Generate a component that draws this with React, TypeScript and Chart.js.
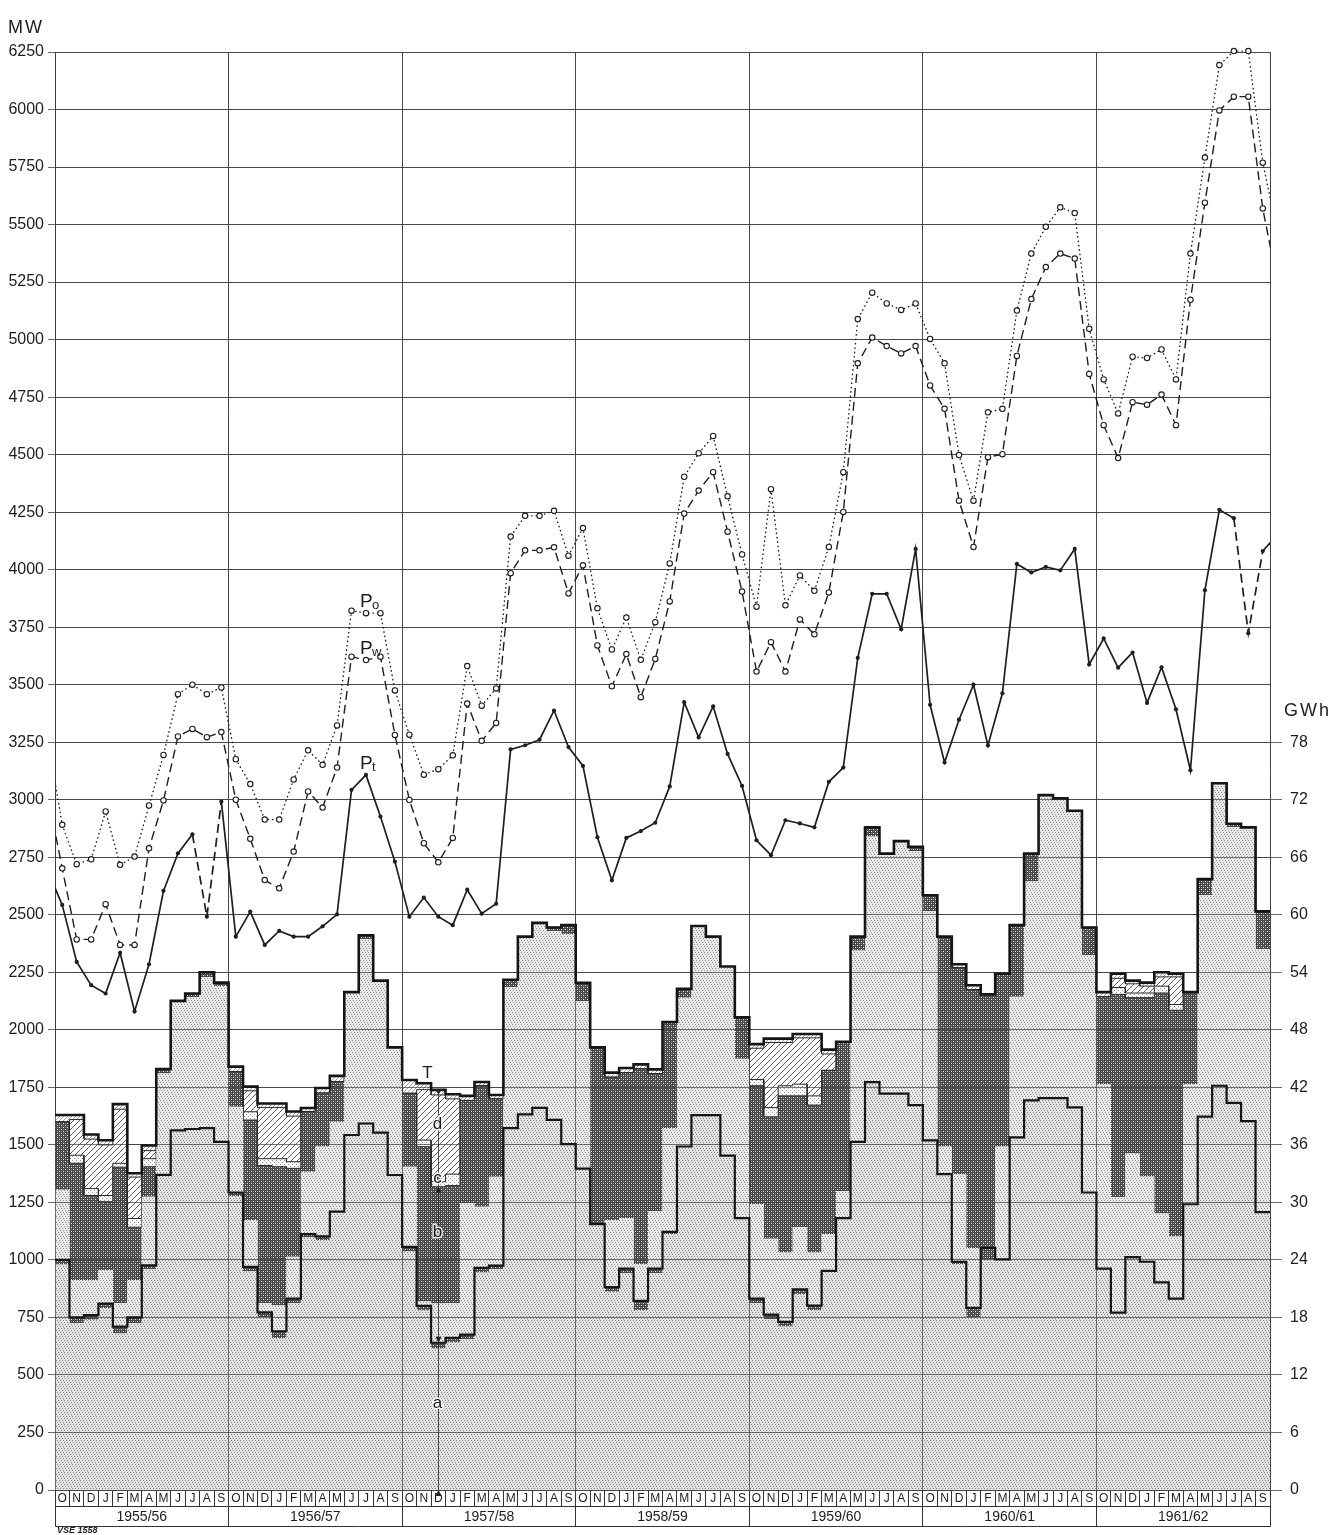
import React, { useEffect, useRef } from 'react';
import { Chart, registerables } from 'chart.js';

Chart.register(...registerables);

const MONTH_LETTERS = ['O', 'N', 'D', 'J', 'F', 'M', 'A', 'M', 'J', 'J', 'A', 'S'];
const YEAR_LABELS = ['1955/56', '1956/57', '1957/58', '1958/59', '1959/60', '1960/61', '1961/62'];

// Monthly peak loads in MW, October 1955 ... September 1962
const P_O = [
  2891, 2720, 2741, 2949, 2717, 2753, 2975, 3195, 3459, 3500, 3459, 3488,
  3176, 3068, 2914, 2914, 3088, 3215, 3152, 3323, 3822, 3811, 3811, 3475,
  3283, 3109, 3133, 3193, 3581, 3409, 3484, 4144, 4234, 4234, 4256, 4061,
  4181, 3832, 3653, 3792, 3608, 3772, 4027, 4404, 4506, 4581, 4319, 4066,
  3839, 4350, 3845, 3975, 3908, 4099, 4424, 5089, 5204, 5157, 5129, 5157,
  5003, 4897, 4498, 4300, 4684, 4699, 5126, 5374, 5490, 5575, 5550, 5047,
  4827, 4679, 4926, 4920, 4957, 4827, 5374, 5791, 6193, 6254, 6254, 5769,
];
const P_W = [
  2702, 2393, 2393, 2546, 2369, 2369, 2789, 2997, 3275, 3308, 3272, 3294,
  3000, 2830, 2651, 2615, 2775, 3036, 2966, 3140, 3622, 3607, 3622, 3282,
  2999, 2811, 2728, 2834, 3418, 3256, 3334, 3985, 4084, 4084, 4097, 3897,
  4019, 3671, 3493, 3633, 3446, 3612, 3862, 4244, 4344, 4424, 4165, 3905,
  3557, 3685, 3557, 3784, 3719, 3901, 4251, 4897, 5009, 4972, 4940, 4972,
  4801, 4699, 4300, 4099, 4489, 4502, 4929, 5176, 5315, 5374, 5352, 4851,
  4628, 4485, 4728, 4717, 4761, 4628, 5173, 5595, 5996, 6056, 6056, 5570,
];
const P_T = [
  2543, 2295, 2194, 2158, 2335, 2080, 2285, 2604, 2767, 2850, 2492, 2992,
  2405, 2514, 2369, 2430, 2405, 2405, 2450, 2502, 3043, 3108, 2927, 2731,
  2492, 2575, 2492, 2455, 2609, 2505, 2548, 3219, 3237, 3261, 3388, 3229,
  3147, 2837, 2650, 2834, 2864, 2900, 3058, 3424, 3271, 3406, 3199, 3060,
  2824, 2759, 2911, 2897, 2880, 3078, 3140, 3617, 3895, 3895, 3741, 4090,
  3413, 3162, 3348, 3500, 3236, 3463, 4025, 3988, 4012, 3997, 4090, 3588,
  3701, 3574, 3640, 3421, 3576, 3393, 3128, 3911, 4260, 4224, 3724, 4081,
];
// September 1955 and October 1962: only the segments up to the frame show
const P_O_OUTSIDE = [3267, 5470];
const P_W_OUTSIDE = [3020, 5250];
const P_T_OUTSIDE = [2690, 4150];
// months from which the P_t line continues dashed
const P_T_DASHED_FROM = [9, 10, 81, 82];

// Daily production, stacked by component, in units of the MW scale (6 GWh = 250 MW)
const LAYER_A = [
  980, 725, 740, 790, 680, 725, 961, 1370, 1563, 1569, 1573, 1513,
  1278, 950, 752, 660, 812, 1097, 1087, 1210, 1543, 1593, 1553, 1369,
  1037, 780, 615, 641, 655, 945, 960, 1573, 1633, 1661, 1609, 1503,
  1397, 1156, 862, 942, 782, 942, 1112, 1493, 1629, 1629, 1453, 1182,
  812, 742, 711, 852, 781, 952, 1182, 1513, 1773, 1723, 1723, 1673,
  1520, 1373, 982, 752, 1002, 1002, 1533, 1693, 1703, 1703, 1663, 1293,
  962, 771, 1012, 992, 902, 832, 1242, 1623, 1757, 1683, 1603, 1208,
];
const LAYER_A_DARK = [
  20, 25, 20, 20, 30, 25, 15, 0, 0, 0, 0, 0,
  15, 20, 20, 30, 20, 15, 15, 0, 0, 0, 0, 0,
  20, 20, 25, 20, 20, 20, 15, 0, 0, 0, 0, 0,
  0, 0, 20, 20, 40, 20, 10, 0, 0, 0, 0, 0,
  20, 20, 20, 20, 20, 0, 0, 0, 0, 0, 0, 0,
  0, 0, 10, 40, 50, 0, 0, 0, 0, 0, 0, 0,
  0, 0, 0, 0, 0, 0, 0, 0, 0, 0, 0, 0,
];
const LAYER_S = [
  305, 163, 153, 146, 102, 162, 299, 440, 563, 574, 657, 677,
  373, 203, 40, 112, 182, 271, 391, 390, 621, 802, 661, 555,
  348, 19, 171, 151, 572, 266, 387, 612, 772, 804, 821, 912,
  727, 0, 290, 220, 160, 250, 451, 647, 822, 776, 822, 692,
  410, 330, 301, 270, 231, 160, 118, 832, 1067, 1043, 1097, 1103,
  995, 120, 381, 260, 0, 491, 611, 952, 1317, 1303, 1289, 1032,
  801, 501, 451, 371, 300, 270, 521, 962, 1315, 1197, 1277, 1143,
];
const LAYER_B = [
  295, 507, 367, 297, 591, 230, 130, 20, 0, 15, 20, 15,
  152, 435, 598, 603, 384, 262, 232, 175, 0, 16, 0, 0,
  319, 673, 507, 511, 446, 526, 338, 33, 0, 0, 15, 40,
  80, 768, 622, 632, 848, 598, 461, 38, 0, 0, 0, 180,
  515, 530, 681, 571, 641, 712, 648, 60, 40, 0, 0, 20,
  70, 912, 897, 1122, 1102, 751, 311, 121, 0, 0, 0, 120,
  381, 882, 677, 777, 958, 983, 401, 70, 0, 16, 0, 164,
];
const LAYER_C = [
  0, 35, 30, 27, 17, 38, 35, 0, 0, 0, 0, 0,
  0, 36, 30, 35, 29, 0, 0, 0, 0, 0, 0, 0,
  0, 29, 22, 50, 0, 0, 0, 0, 0, 0, 0, 0,
  0, 0, 0, 0, 0, 0, 0, 0, 0, 0, 0, 0,
  27, 40, 44, 51, 40, 0, 0, 0, 0, 0, 0, 0,
  0, 0, 0, 0, 0, 0, 0, 0, 0, 0, 0, 0,
  0, 30, 20, 20, 30, 25, 0, 0, 0, 0, 0, 0,
];
const LAYER_D = [
  0, 155, 215, 220, 235, 180, 35, 0, 0, 0, 0, 0,
  0, 91, 222, 222, 198, 0, 0, 0, 0, 0, 0, 0,
  0, 219, 377, 327, 0, 0, 0, 0, 0, 0, 0, 0,
  0, 0, 0, 0, 0, 0, 0, 0, 0, 0, 0, 0,
  136, 283, 188, 201, 252, 71, 0, 0, 0, 0, 0, 0,
  0, 0, 0, 0, 0, 0, 0, 0, 0, 0, 0, 0,
  0, 40, 40, 30, 40, 120, 0, 0, 0, 0, 0, 0,
];
const LAYER_T = [
  30, 20, 20, 20, 22, 17, 22, 0, 0, 0, 0, 0,
  22, 18, 18, 18, 20, 15, 22, 25, 0, 0, 0, 0,
  58, 28, 22, 20, 20, 16, 17, 0, 0, 0, 0, 0,
  0, 0, 20, 20, 20, 18, 0, 0, 0, 0, 0, 0,
  18, 17, 17, 17, 17, 19, 0, 0, 0, 0, 0, 0,
  0, 0, 15, 20, 0, 0, 0, 0, 0, 0, 0, 0,
  20, 20, 14, 15, 20, 14, 0, 0, 0, 0, 0, 0,
];

const FONT = '"Liberation Sans", "DejaVu Sans", sans-serif';
const INK = '#1e1e1e';

function tile(size: number, paint: (g: CanvasRenderingContext2D) => void): CanvasPattern {
  const c = document.createElement('canvas');
  c.width = size;
  c.height = size;
  const g = c.getContext('2d') as CanvasRenderingContext2D;
  paint(g);
  return g.createPattern(c, 'repeat') as CanvasPattern;
}

function makePatterns() {
  // fine halftone dots for the light components
  const dots = (bg: string, dot: string) =>
    tile(6, (g) => {
      g.fillStyle = bg;
      g.fillRect(0, 0, 6, 6);
      g.fillStyle = dot;
      [[0, 0], [3, 0], [1, 2], [4, 2], [2, 4], [5, 4]].forEach(([x, y]) => g.fillRect(x, y, 1, 1));
    });
  const stipple = dots('#e2e2e2', '#858585');
  const stippleLight = dots('#e9e9e9', '#939393');
  // dark cross screen with staggered light holes
  const dark = tile(4, (g) => {
    g.fillStyle = '#474747';
    g.fillRect(0, 0, 4, 4);
    g.fillStyle = '#e6e6e6';
    g.fillRect(1, 1, 1, 1);
    g.fillRect(3, 3, 1, 1);
    g.fillStyle = '#8a8a8a';
    g.fillRect(3, 1, 1, 1);
    g.fillRect(1, 3, 1, 1);
  });
  const hatch = tile(6, (g) => {
    g.fillStyle = '#ffffff';
    g.fillRect(0, 0, 6, 6);
    g.strokeStyle = '#4d4d4d';
    g.lineWidth = 0.9;
    g.beginPath();
    g.moveTo(0, 6); g.lineTo(6, 0);
    g.moveTo(-1, 1); g.lineTo(1, -1);
    g.moveTo(5, 7); g.lineTo(7, 5);
    g.stroke();
  });
  const fineHatch = tile(4, (g) => {
    g.fillStyle = '#ffffff';
    g.fillRect(0, 0, 4, 4);
    g.strokeStyle = '#8a8a8a';
    g.lineWidth = 0.8;
    g.beginPath();
    g.moveTo(0, 4); g.lineTo(4, 0);
    g.moveTo(-1, 1); g.lineTo(1, -1);
    g.moveTo(3, 5); g.lineTo(5, 3);
    g.stroke();
  });
  const pale = tile(4, (g) => {
    g.fillStyle = '#f8f8f8';
    g.fillRect(0, 0, 4, 4);
    g.fillStyle = '#9a9a9a';
    g.fillRect(0, 0, 1, 1);
    g.fillRect(2, 2, 1, 1);
  });
  return { stipple, stippleLight, dark, hatch, fineHatch, pale };
}

const align = (p: number) => Math.round(p - 0.5) + 0.5;

const decorPlugin = {
  id: 'decor',
  afterDatasetDraw(chart: any, args: any) {
    // grid shows through the textured areas
    if (args.index !== 0) return;
    const { ctx, chartArea: ca, scales } = chart;
    ctx.save();
    ctx.beginPath();
    ctx.rect(ca.left, ca.top, ca.right - ca.left, ca.bottom - ca.top);
    ctx.clip();
    ctx.strokeStyle = 'rgba(60,60,60,0.7)';
    ctx.lineWidth = 1;
    ctx.beginPath();
    scales.y.ticks.forEach((t: any) => {
      const y = align(scales.y.getPixelForValue(t.value));
      ctx.moveTo(ca.left, y);
      ctx.lineTo(ca.right, y);
    });
    scales.x.ticks.forEach((t: any) => {
      const x = align(scales.x.getPixelForValue(t.value));
      ctx.moveTo(x, ca.top);
      ctx.lineTo(x, ca.bottom);
    });
    ctx.stroke();
    ctx.restore();
  },
  afterDraw(chart: any) {
    const { ctx, chartArea: ca, scales } = chart;
    const xs = scales.x;
    const ys = scales.y;
    const n = P_T.length;
    ctx.save();

    // month and year rows under the plot
    const rowTop = align(ca.bottom);
    const rowMid = rowTop + 16;
    const rowBot = rowTop + 36;
    ctx.strokeStyle = '#333';
    ctx.lineWidth = 1;
    ctx.beginPath();
    for (let i = 0; i <= n; i++) {
      const x = align(xs.getPixelForValue(i));
      const yearEdge = i % 12 === 0;
      ctx.moveTo(x, rowTop);
      ctx.lineTo(x, yearEdge ? rowBot : rowMid);
    }
    const xl = align(xs.getPixelForValue(0));
    const xr = align(xs.getPixelForValue(n));
    ctx.moveTo(xl, rowMid); ctx.lineTo(xr, rowMid);
    ctx.moveTo(xl, rowBot); ctx.lineTo(xr, rowBot);
    ctx.stroke();

    ctx.fillStyle = INK;
    ctx.textAlign = 'center';
    ctx.textBaseline = 'middle';
    ctx.font = `12px ${FONT}`;
    for (let i = 0; i < n; i++) {
      const xc = xs.getPixelForValue(i + 0.5);
      ctx.fillText(MONTH_LETTERS[i % 12], xc, rowTop + 8.5);
    }
    ctx.font = `14px ${FONT}`;
    YEAR_LABELS.forEach((lab, k) => {
      const xc = xs.getPixelForValue(k * 12 + 6);
      ctx.fillText(lab, xc, rowMid + 10.5);
    });

    // axis titles and mark
    ctx.textAlign = 'left';
    ctx.textBaseline = 'alphabetic';
    ctx.font = `18px ${FONT}`;
    (ctx as any).letterSpacing = '2px';
    ctx.fillText('MW', 8, 33);
    ctx.fillText('GWh', 1284, 716);
    (ctx as any).letterSpacing = '0px';
    ctx.font = `italic bold 9px ${FONT}`;
    ctx.fillText('VSE 1558', 57, 1533);

    // series names
    const seriesNames: [string, number][] = [['o', 3838], ['w', 3634], ['t', 3134]];
    seriesNames.forEach(([sub, v]) => {
      const x = xs.getPixelForValue(21.09);
      const y = ys.getPixelForValue(v);
      ctx.font = `19px ${FONT}`;
      ctx.fillText('P', x, y);
      ctx.font = `13px ${FONT}`;
      ctx.fillText(sub, x + 12, y + 2);
    });

    // dimension line through December 1957
    const m = 26;
    const stack = [LAYER_A, LAYER_A_DARK, LAYER_S, LAYER_B, LAYER_C, LAYER_D];
    let acc = 0;
    const bounds = stack.map((arr) => (acc += arr[m]));
    const xa = align(xs.getPixelForValue(m + 0.5));
    ctx.strokeStyle = '#222';
    ctx.lineWidth = 0.8;
    ctx.beginPath();
    ctx.moveTo(xa, ys.getPixelForValue(0));
    ctx.lineTo(xa, ys.getPixelForValue(bounds[5]));
    ctx.stroke();
    const arrow = (v: number, dir: number) => {
      const y = ys.getPixelForValue(v);
      ctx.beginPath();
      ctx.moveTo(xa, y);
      ctx.lineTo(xa - 3, y - dir * 6);
      ctx.lineTo(xa + 3, y - dir * 6);
      ctx.closePath();
      ctx.fill();
    };
    ctx.fillStyle = '#222';
    arrow(0, -1);
    arrow(bounds[1], 1);
    arrow(bounds[3], -1);
    arrow(bounds[4], 1);
    arrow(bounds[5], 1);

    ctx.font = `17px ${FONT}`;
    ctx.textAlign = 'center';
    ctx.textBaseline = 'middle';
    const letters: [string, number, number][] = [
      ['T', 25.75, 1812], ['d', 26.45, 1590], ['c', 26.45, 1356], ['b', 26.45, 1120], ['a', 26.45, 378],
    ];
    letters.forEach(([t, mx, v]) => {
      const x = xs.getPixelForValue(mx);
      const y = ys.getPixelForValue(v);
      ctx.lineWidth = 3;
      ctx.strokeStyle = 'rgba(255,255,255,0.85)';
      ctx.strokeText(t, x, y);
      ctx.fillStyle = '#1a1a1a';
      ctx.fillText(t, x, y);
    });

    ctx.restore();
  },
};

export default function App() {
  const ref = useRef<HTMLCanvasElement>(null);

  useEffect(() => {
    const canvas = ref.current;
    if (!canvas) return;
    const n = P_T.length;
    const layers = [LAYER_A, LAYER_A_DARK, LAYER_S, LAYER_B, LAYER_C, LAYER_D, LAYER_T];
    const cum: number[][] = [];
    layers.forEach((arr, k) => cum.push(arr.map((v, i) => v + (k ? cum[k - 1][i] : 0))));

    const steps = (vals: number[]) => vals.flatMap((v, i) => [{ x: i, y: v }, { x: i + 1, y: v }]);
    const monthly = (vals: number[], outside: number[]) => [
      { x: -0.5, y: outside[0] },
      ...vals.map((v, i) => ({ x: i + 0.5, y: v })),
      { x: n + 0.5, y: outside[1] },
    ];
    const pats = makePatterns();
    const fills = [pats.stipple, pats.dark, pats.stippleLight, pats.dark, pats.pale, pats.hatch, pats.fineHatch];
    const edges = [0, 0, 0, 1, 1, 1, 1];
    const none = 'rgba(0,0,0,0)';

    const areaSets = layers.map((_, k) => ({
      data: steps(cum[k]),
      fill: k === 0 ? 'origin' : '-1',
      backgroundColor: fills[k],
      borderColor: edges[k] ? '#2a2a2a' : none,
      borderWidth: 1,
      pointRadius: 0,
      tension: 0,
      order: 10,
    }));
    const outlineSets = [cum[1], cum[6]].map((vals, j) => ({
      data: steps(vals),
      fill: false,
      borderColor: '#151515',
      borderWidth: j ? 2.6 : 2.2,
      borderJoinStyle: 'miter',
      pointRadius: 0,
      tension: 0,
      order: 5,
    }));
    const hideEnds = (c: any) => (c.dataIndex === 0 || c.dataIndex === n + 1 ? 0 : 2.7);
    const lineClip = { left: 0, top: 8, right: 0, bottom: 0 };
    const powerSets = [
      {
        data: monthly(P_O, P_O_OUTSIDE),
        fill: false,
        borderColor: INK,
        borderWidth: 1.4,
        borderDash: [0.4, 4],
        borderCapStyle: 'round',
        pointRadius: hideEnds,
        pointBackgroundColor: '#ffffff',
        pointBorderColor: INK,
        pointBorderWidth: 1.1,
        tension: 0,
        clip: lineClip,
        order: 1,
      },
      {
        data: monthly(P_W, P_W_OUTSIDE),
        fill: false,
        borderColor: INK,
        borderWidth: 1.4,
        borderDash: [9, 5],
        pointRadius: hideEnds,
        pointBackgroundColor: '#ffffff',
        pointBorderColor: INK,
        pointBorderWidth: 1.1,
        tension: 0,
        clip: lineClip,
        order: 1,
      },
      {
        data: monthly(P_T, P_T_OUTSIDE),
        fill: false,
        borderColor: INK,
        borderWidth: 1.7,
        pointRadius: (c: any) => (c.dataIndex === 0 || c.dataIndex === n + 1 ? 0 : 2.1),
        pointBackgroundColor: INK,
        pointBorderColor: INK,
        pointBorderWidth: 0,
        tension: 0,
        clip: lineClip,
        segment: {
          borderDash: (c: any) => (P_T_DASHED_FROM.includes(c.p0DataIndex - 1) ? [9, 5] : undefined),
        },
        order: 1,
      },
    ];

    const tickFont = { family: FONT, size: 16 };
    const chart = new Chart(canvas, {
      type: 'line',
      data: { datasets: [...areaSets, ...outlineSets, ...powerSets] as any },
      options: {
        responsive: false,
        animation: false,
        events: [],
        layout: { padding: { top: 52, left: 0, right: 0, bottom: 0 } },
        plugins: { legend: { display: false }, tooltip: { enabled: false } },
        scales: {
          x: {
            type: 'linear',
            min: 0,
            max: n,
            ticks: { display: false, stepSize: 12 },
            grid: { color: '#6a6a6a', lineWidth: 1, drawTicks: false },
            border: { display: true, color: '#444' },
            afterFit: (s: any) => { s.height = 45; },
          },
          y: {
            type: 'linear',
            position: 'left',
            min: 0,
            max: 6250,
            ticks: {
              stepSize: 250,
              autoSkip: false,
              maxTicksLimit: 100,
              padding: 4,
              color: INK,
              font: tickFont,
              callback: (v: any) => String(v),
            },
            grid: { color: '#6a6a6a', lineWidth: 1, tickLength: 7 },
            border: { display: true, color: '#444' },
            afterFit: (s: any) => { s.width = 55; },
          },
          y2: {
            type: 'linear',
            position: 'right',
            min: 0,
            max: 150,
            ticks: {
              stepSize: 6,
              autoSkip: false,
              maxTicksLimit: 100,
              padding: 8,
              color: INK,
              font: tickFont,
              callback: (v: any) => (v <= 78 ? String(v) : ''),
            },
            grid: {
              drawOnChartArea: false,
              tickLength: 12,
              color: (c: any) => (c.tick && c.tick.value <= 78 ? '#6a6a6a' : 'rgba(0,0,0,0)'),
            },
            border: { display: true, color: '#444' },
            afterFit: (s: any) => { s.width = 74; },
          },
        },
      } as any,
      plugins: [decorPlugin],
    });
    return () => chart.destroy();
  }, []);

  return (
    <div style={{ position: 'absolute', left: 0, top: 0, width: 1344, height: 1535, background: '#ffffff' }}>
      <canvas ref={ref} width={1344} height={1535} style={{ display: 'block' }} />
    </div>
  );
}
